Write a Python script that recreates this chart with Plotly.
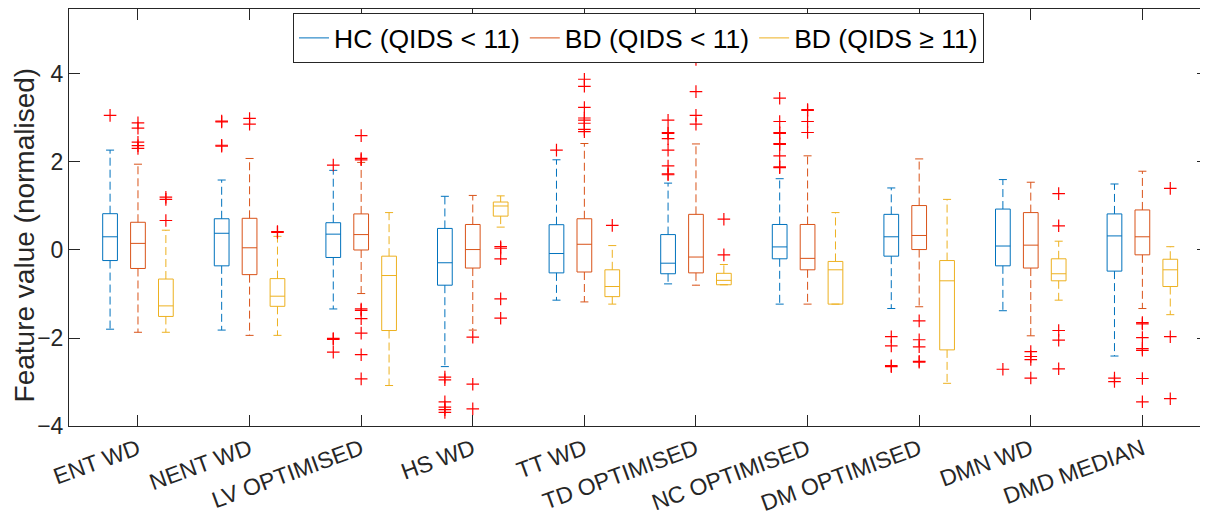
import plotly.graph_objects as go

categories = ["ENT WD", "NENT WD", "LV OPTIMISED", "HS WD", "TT WD",
              "TD OPTIMISED", "NC OPTIMISED", "DM OPTIMISED", "DMN WD", "DMD MEDIAN"]
series_names = ["HC (QIDS < 11)", "BD (QIDS < 11)", "BD (QIDS \u2265 11)"]
series_colors = ["#0072BD", "#D95319", "#EDB120"]

# HC (QIDS < 11)
hc_q1 = [-0.24, -0.36, -0.17, -0.80, -0.52, -0.54, -0.20, -0.14, -0.36, -0.48]
hc_med = [0.30, 0.38, 0.36, -0.29, -0.08, -0.30, 0.07, 0.30, 0.09, 0.32]
hc_q3 = [0.825, 0.71, 0.62, 0.49, 0.575, 0.35, 0.58, 0.81, 0.93, 0.82]
hc_lo = [-1.80, -1.82, -1.34, -2.65, -1.14, -0.77, -1.23, -1.33, -1.38, -2.41]
hc_hi = [2.27, 1.59, 1.81, 1.22, 2.05, 1.52, 1.62, 1.41, 1.60, 1.50]
hc_out = [[3.06], [2.91, 2.93, 2.38, 2.36], [1.93, -2.01, -2.03, -2.32],
          [-2.89, -2.95, -3.45, -3.57, -3.63, -3.69], [2.27],
          [2.95, 2.67, 2.65, 2.53, 2.27, 1.91, 1.73, 1.71],
          [3.45, 2.92, 2.67, 2.65, 2.42, 2.40, 2.14, 1.89, 1.87],
          [-1.97, -2.18, -2.63, -2.65], [-2.71], [-2.91, -2.99]]

# BD (QIDS < 11)
bdl_q1 = [-0.42, -0.56, 0.0, -0.41, -0.50, -0.52, -0.45, 0.01, -0.41, -0.11]
bdl_med = [0.15, 0.05, 0.35, 0.01, 0.13, -0.16, -0.19, 0.33, 0.11, 0.30]
bdl_q3 = [0.63, 0.72, 0.82, 0.58, 0.71, 0.81, 0.58, 1.01, 0.85, 0.91]
bdl_lo = [-1.87, -1.94, -0.99, -1.82, -1.18, -0.80, -1.23, -1.29, -1.95, -1.33]
bdl_hi = [1.95, 2.08, 1.99, 1.24, 2.42, 2.41, 2.14, 2.07, 1.54, 1.79]
bdl_out = [[2.89, 2.77, 2.45, 2.37, 2.31], [2.99, 2.86],
           [2.60, 2.08, 2.05, -1.34, -1.37, -1.56, -1.89, -2.38, -2.93],
           [-1.98, -3.05, -3.61], [3.88, 3.72, 3.24, 3.0, 2.95, 2.88, 2.74, 2.69],
           [4.33, 3.60, 3.06, 2.86], [3.19, 3.17, 2.92, 2.67],
           [-1.61, -2.04, -2.20, -2.53, -2.55], [-2.31, -2.42, -2.49, -2.91],
           [-1.65, -1.68, -1.99, -2.24, -2.28, -2.92, -3.45]]

# BD (QIDS >= 11)
bdh_q1 = [-1.51, -1.28, -1.83, 0.77, -1.06, -0.79, -1.23, -2.27, -0.70, -0.83]
bdh_med = [-1.27, -1.05, -0.58, 1.0, -0.83, -0.69, -0.45, -0.70, -0.54, -0.45]
bdh_q3 = [-0.66, -0.65, -0.14, 1.09, -0.45, -0.53, -0.26, -0.24, -0.20, -0.21]
bdh_lo = [-1.87, -1.94, -3.08, 0.52, -1.23, -0.79, -1.23, -3.03, -1.14, -1.47]
bdh_hi = [0.45, 0.31, 0.85, 1.23, 0.10, -0.33, 0.85, 1.15, 0.20, 0.075]
bdh_out = [[1.20, 1.15, 0.67], [0.42, 0.40], [], [0.075, 0.04, -0.20, -1.11, -1.55],
           [0.56], [0.70, -0.11], [], [], [1.28, 0.55, -1.83, -2.05, -2.70],
           [1.40, -1.97, -3.38]]

y_ticks = [-4, -2, 0, 2, 4]

series = [
    (hc_q1, hc_med, hc_q3, hc_lo, hc_hi, hc_out),
    (bdl_q1, bdl_med, bdl_q3, bdl_lo, bdl_hi, bdl_out),
    (bdh_q1, bdh_med, bdh_q3, bdh_lo, bdh_hi, bdh_out),
]

offsets = [-0.25, 0.0, 0.25]
half_box = 0.066
half_cap = 0.036
positions = list(range(1, len(categories) + 1))

fig = go.Figure()
out_x, out_y = [], []
for s, (q1, med, q3, lo, hi, outs) in enumerate(series):
    color = series_colors[s]
    sx, sy, wx, wy = [], [], [], []
    for g, pos in enumerate(positions):
        c = pos + offsets[s]
        l, r = c - half_box, c + half_box
        sx += [l, r, r, l, l, None]
        sy += [q1[g], q1[g], q3[g], q3[g], q1[g], None]
        sx += [l, r, None]
        sy += [med[g], med[g], None]
        sx += [c - half_cap, c + half_cap, None, c - half_cap, c + half_cap, None]
        sy += [hi[g], hi[g], None, lo[g], lo[g], None]
        wx += [c, c, None, c, c, None]
        wy += [q3[g], hi[g], None, q1[g], lo[g], None]
        for v in outs[g]:
            out_x.append(c)
            out_y.append(v)
    fig.add_trace(go.Scatter(x=wx, y=wy, mode="lines", showlegend=False,
                             line=dict(color=color, width=1, dash="8px,4px"),
                             hoverinfo="skip"))
    fig.add_trace(go.Scatter(x=sx, y=sy, mode="lines", name=series_names[s],
                             line=dict(color=color, width=1)))

fig.add_trace(go.Scatter(x=out_x, y=out_y, mode="markers", showlegend=False,
                         marker=dict(symbol="cross-thin", size=9,
                                     line=dict(color="#FF0000", width=1.2))))

# invisible trace on right axis for mirrored ticks
fig.add_trace(go.Scatter(x=[1], y=[0], yaxis="y2", mode="markers",
                         marker=dict(opacity=0), showlegend=False, hoverinfo="skip"))

axis_color = "#262626"
fig.update_layout(
    width=1208, height=517,
    margin=dict(l=61, r=8, t=1, b=99),
    plot_bgcolor="white", paper_bgcolor="white",
    font=dict(family="Liberation Sans, Arial, sans-serif", color=axis_color, size=23),
    xaxis=dict(range=[0.382, 10.588], tickmode="array", tickvals=positions,
               ticktext=categories, tickangle=-20, ticks="inside", ticklen=11,
               tickcolor=axis_color, showline=True, linecolor=axis_color, linewidth=1,
               mirror="ticks", showgrid=False, zeroline=False,
               tickfont=dict(size=23, color=axis_color)),
    yaxis=dict(range=[-4.0, 5.477], tickvals=y_ticks, ticks="inside", ticklen=11,
               tickcolor=axis_color, showline=True, linecolor=axis_color, linewidth=1,
               mirror=False, showgrid=False, zeroline=False,
               tickfont=dict(size=23, color=axis_color)),
    yaxis2=dict(overlaying="y", side="right", matches="y", tickvals=y_ticks,
                ticks="inside", ticklen=11, tickcolor=axis_color,
                showticklabels=False, showline=True, linecolor=axis_color,
                showgrid=False, zeroline=False),
    legend=dict(orientation="h", x=0.5, xanchor="center", y=0.99, yanchor="top",
                bgcolor="white", bordercolor=axis_color, borderwidth=1,
                font=dict(size=26.5, color="#000000")),
    annotations=[dict(text="Feature value (normalised)", xref="paper", yref="paper",
                      x=-0.0395, y=0.457, xanchor="center", yanchor="middle",
                      textangle=-90, showarrow=False,
                      font=dict(size=28, color=axis_color))],
)

fig.write_html("out.html")
